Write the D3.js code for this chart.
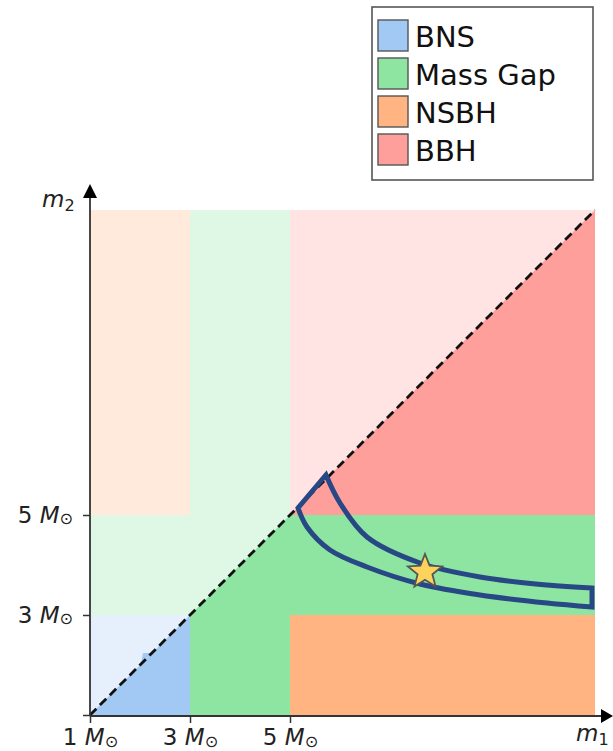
<!DOCTYPE html>
<html>
<meta charset=utf-8>
<head>
  <style>
    body { margin: 0; background: #fff; }
    svg { display: block; font-family: "DejaVu Sans", sans-serif; }
  </style>
</head>
<body>
  <svg id="chart" width="613" height="751"></svg>
  <script src="https://d3js.org/d3.v7.min.js"></script>
  <script>
  // classes and their colours (seaborn pastel)
  var classes = ["BNS", "Mass Gap", "NSBH", "BBH"]
  var classColors = ["#a1c9f4", "#8de5a1", "#ffb482", "#ff9f9b"]

  // mass bin edges (solar masses): NS | gap | BH
  var massEdges = [1, 3, 5, 11.1]
  var xTickValues = [1, 3, 5]
  var yTickValues = [1, 3, 5]
  var yTickLabels = ["", "3", "5"]

  // credible region outline (m1, m2)
  var contourUpper = [[5.72, 5.80], [6.00, 5.24], [6.54, 4.56], [7.60, 4.04], [8.80, 3.76], [10.14, 3.60], [11.04, 3.54]]
  var contourLower = [[11.04, 3.16], [10.14, 3.24], [8.80, 3.40], [7.60, 3.62], [6.54, 3.96], [5.80, 4.30], [5.34, 4.76], [5.16, 5.14]]
  var starPoint = [7.70, 3.86]

  // small step in the BNS fill just above the diagonal
  var bnsNotch = [[2.02, 2.02], [2.06, 2.24], [2.24, 2.24]]

  var svg = d3.select('#chart')

  var x = d3.scaleLinear().domain([1, 11.1]).range([90, 595])
  var y = d3.scaleLinear().domain([1, 11.1]).range([715, 210])

  function binClass(i, j) {
    if (i === 1 || j === 1) return 1
    if (i === 0 && j === 0) return 0
    if (i === 2 && j === 2) return 3
    return 2
  }

  var cells = []
  for (var i = 0; i < 3; i++) {
    for (var j = 0; j < 3; j++) {
      cells.push({ x0: massEdges[i], x1: massEdges[i + 1], y0: massEdges[j], y1: massEdges[j + 1], c: binClass(i, j) })
    }
  }

  var line = d3.line().x(function (d) { return x(d[0]) }).y(function (d) { return y(d[1]) })

  svg.append('clipPath').attr('id', 'below')
    .append('path')
    .attr('d', line([[1, 1], [11.1, 1], [11.1, 11.1]]) + 'Z')

  // faded layer (m2 > m1)
  svg.append('g').selectAll('rect').data(cells).enter().append('rect')
    .attr('x', function (d) { return x(d.x0) })
    .attr('y', function (d) { return y(d.y1) })
    .attr('width', function (d) { return x(d.x1) - x(d.x0) })
    .attr('height', function (d) { return y(d.y0) - y(d.y1) })
    .attr('fill', function (d) { return classColors[d.c] })
    .attr('fill-opacity', 0.28)

  // full layer (m1 >= m2)
  svg.append('g').attr('clip-path', 'url(#below)')
    .selectAll('rect').data(cells).enter().append('rect')
    .attr('x', function (d) { return x(d.x0) })
    .attr('y', function (d) { return y(d.y1) })
    .attr('width', function (d) { return x(d.x1) - x(d.x0) })
    .attr('height', function (d) { return y(d.y0) - y(d.y1) })
    .attr('fill', function (d) { return classColors[d.c] })

  svg.append('path')
    .attr('d', line(bnsNotch) + 'Z')
    .attr('fill', classColors[0])

  // equal mass line
  svg.append('path')
    .attr('d', line([[1, 1], [11.1, 11.1]]))
    .attr('stroke', '#111')
    .attr('stroke-width', 2.8)
    .attr('stroke-dasharray', '9,5')
    .attr('fill', 'none')

  // contour
  var curve = d3.line().x(function (d) { return x(d[0]) }).y(function (d) { return y(d[1]) }).curve(d3.curveCatmullRom)
  var contourPath = curve(contourUpper) + 'L' + curve(contourLower).slice(1) + 'Z'
  svg.append('path')
    .attr('d', contourPath)
    .attr('fill', 'none')
    .attr('stroke', '#274785')
    .attr('stroke-width', 5)
    .attr('stroke-linejoin', 'miter')

  // star
  var star = []
  for (var k = 0; k < 10; k++) {
    var r = k % 2 === 0 ? 18 : 7.8
    var a = -Math.PI / 2 + k * Math.PI / 5
    star.push([r * Math.cos(a), r * Math.sin(a)])
  }
  svg.append('path')
    .attr('transform', 'translate(' + x(starPoint[0]) + ',' + y(starPoint[1]) + ')')
    .attr('d', d3.line()(star) + 'Z')
    .attr('fill', '#fdd35c')
    .attr('stroke', '#555')
    .attr('stroke-width', 1.8)
    .attr('stroke-linejoin', 'miter')

  // axes
  function massLabel(sel, labels) {
    sel.each(function (d, i) {
      var t = d3.select(this)
      var v = labels ? labels[i] : d
      t.text(null)
      if (v === '') return
      t.append('tspan').text(v + ' ')
      t.append('tspan').attr('font-style', 'italic').text('M')
      t.append('tspan').attr('font-size', '0.7em').attr('dy', '0.1em').text('\u2299')
    })
  }

  var xAxis = svg.append('g').attr('transform', 'translate(0,716)')
    .call(d3.axisBottom(x).tickValues(xTickValues).tickSize(7).tickPadding(6))
  var yAxis = svg.append('g').attr('transform', 'translate(90,0)')
    .call(d3.axisLeft(y).tickValues(yTickValues).tickSize(7).tickPadding(10))

  ;[xAxis, yAxis].forEach(function (ax) {
    ax.select('.domain').remove()
    ax.selectAll('.tick line').attr('stroke', '#333').attr('stroke-width', 1.5)
    ax.selectAll('.tick text')
      .attr('font-size', 23)
      .attr('font-family', '"DejaVu Sans", sans-serif')
      .attr('fill', '#222')
  })
  xAxis.selectAll('.tick text').call(massLabel, null)
  yAxis.selectAll('.tick text').call(massLabel, yTickLabels)

  svg.append('line').attr('x1', 90).attr('y1', 716).attr('x2', 602).attr('y2', 716)
    .attr('stroke', '#333').attr('stroke-width', 1.8)
  svg.append('path').attr('d', 'M601,709L613,716L601,723Z').attr('fill', '#000')
  svg.append('line').attr('x1', 90).attr('y1', 716).attr('x2', 90).attr('y2', 197)
    .attr('stroke', '#333').attr('stroke-width', 1.8)
  svg.append('path').attr('d', 'M83,198L90,184L97,198Z').attr('fill', '#000')

  function axisName(xp, yp, sub) {
    var t = svg.append('text').attr('x', xp).attr('y', yp).attr('font-size', 23).attr('fill', '#222')
    t.append('tspan').attr('font-style', 'italic').text('m')
    t.append('tspan').attr('font-size', '0.7em').attr('dy', '0.25em').text(sub)
  }
  axisName(42, 207, '2')
  axisName(576, 741, '1')

  // legend
  var legend = svg.append('g')
  legend.append('rect')
    .attr('x', 372).attr('y', 7).attr('width', 221).attr('height', 173)
    .attr('fill', '#fff').attr('stroke', '#555').attr('stroke-width', 1.6)
  var items = legend.selectAll('g.item').data(classes).enter().append('g')
    .attr('class', 'item')
    .attr('transform', function (d, i) { return 'translate(0,' + (i * 38) + ')' })
  items.append('rect')
    .attr('x', 378).attr('y', 20).attr('width', 30).attr('height', 31)
    .attr('fill', function (d, i) { return classColors[i] })
    .attr('stroke', '#555').attr('stroke-width', 1.4)
  items.append('text')
    .attr('x', 415).attr('y', 47)
    .attr('font-size', 29)
    .attr('fill', '#111')
    .text(function (d) { return d })
  </script>
</body>
</html>
